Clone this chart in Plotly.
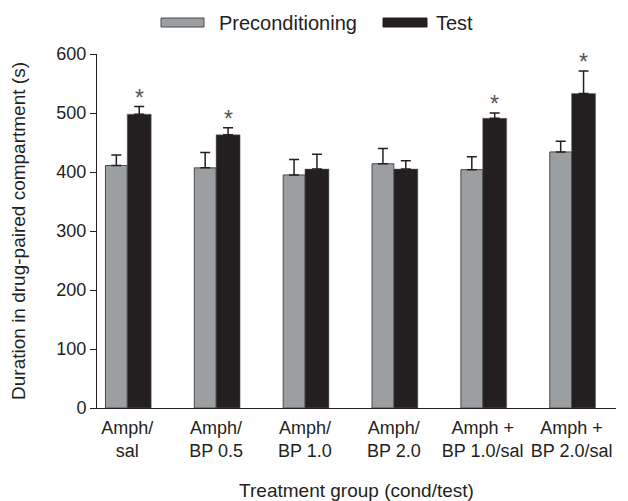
import plotly.graph_objects as go

categories = ["Amph/<br>sal", "Amph/<br>BP 0.5", "Amph/<br>BP 1.0", "Amph/<br>BP 2.0",
              "Amph +<br>BP 1.0/sal", "Amph +<br>BP 2.0/sal"]
precond = [411, 407, 395, 414, 404, 434]
precond_err = [18, 26, 26, 26, 22, 18]
test = [498, 463, 405, 405, 491, 533]
test_err = [13, 12, 25, 14, 9, 38]
significant = [True, True, False, False, True, True]
y_ticks = [0, 100, 200, 300, 400, 500, 600]

x = list(range(len(categories)))
GREY = "#9c9fa1"
BLACK = "#231f20"
FONT = "Liberation Sans, Arial, sans-serif"

fig = go.Figure()
fig.add_trace(go.Bar(
    x=x, y=precond, name="Preconditioning", offset=-0.245, width=0.245,
    marker=dict(color=GREY, line=dict(color="#4a4a4a", width=1)),
    error_y=dict(type="data", symmetric=False, array=precond_err,
                 arrayminus=[0] * len(precond), color=BLACK, thickness=1.5, width=5),
    showlegend=False,
))
fig.add_trace(go.Bar(
    x=x, y=test, name="Test", offset=0, width=0.27,
    marker=dict(color=BLACK, line=dict(color="#6a6a6a", width=0.5)),
    error_y=dict(type="data", symmetric=False, array=test_err,
                 arrayminus=[0] * len(test), color=BLACK, thickness=1.5, width=5),
    showlegend=False,
))

for xi, yi, ei, sig in zip(x, test, test_err, significant):
    if sig:
        fig.add_annotation(x=xi + 0.135, y=yi + ei, text="*", showarrow=False,
                           yanchor="bottom", yshift=-6,
                           font=dict(size=23, color="#555555", family=FONT))

# Legend drawn as swatches + text
fig.add_shape(type="rect", xref="paper", yref="paper",
              x0=(161 - 97) / 519, x1=(204 - 97) / 519,
              y0=1 + (54 - 27) / 354, y1=1 + (54 - 18) / 354,
              fillcolor=GREY, line=dict(color="#4a4a4a", width=1))
fig.add_annotation(xref="paper", yref="paper", x=(217 - 97) / 519, y=1 + (54 - 22.5) / 354,
                   xanchor="left", yanchor="middle", showarrow=False,
                   text="Preconditioning", font=dict(size=20, color=BLACK, family=FONT))
fig.add_shape(type="rect", xref="paper", yref="paper",
              x0=(383 - 97) / 519, x1=(427 - 97) / 519,
              y0=1 + (54 - 27) / 354, y1=1 + (54 - 18) / 354,
              fillcolor=BLACK, line=dict(color=BLACK, width=1))
fig.add_annotation(xref="paper", yref="paper", x=(434 - 97) / 519, y=1 + (54 - 22.5) / 354,
                   xanchor="left", yanchor="middle", showarrow=False,
                   text="Test", font=dict(size=20, color=BLACK, family=FONT))

fig.update_layout(
    width=628, height=501,
    margin=dict(l=97, r=12, t=54, b=93, autoexpand=False),
    paper_bgcolor="white", plot_bgcolor="white",
    barmode="overlay",
    font=dict(family=FONT, size=18, color=BLACK),
    showlegend=False,
    xaxis=dict(
        range=[-0.34, 5.5], tickmode="array", tickvals=x, ticktext=categories,
        showline=True, linecolor=BLACK, linewidth=1, ticks="", showgrid=False,
        zeroline=False, tickfont=dict(size=18), ticklabelstandoff=3, automargin=False,
        title=dict(text="Treatment group (cond/test)", font=dict(size=19), standoff=30),
    ),
    yaxis=dict(
        range=[0, 600], tickmode="array", tickvals=y_ticks,
        showline=True, linecolor=BLACK, linewidth=1, ticks="outside", ticklen=6,
        tickcolor=BLACK, showgrid=False, zeroline=False, tickfont=dict(size=18),
        automargin=False,
        title=dict(text="Duration in drug-paired compartment (s)", font=dict(size=19), standoff=25),
    ),
)

fig.write_html("out.html", config={"displayModeBar": False},
               post_script="document.body.style.margin='0';")
